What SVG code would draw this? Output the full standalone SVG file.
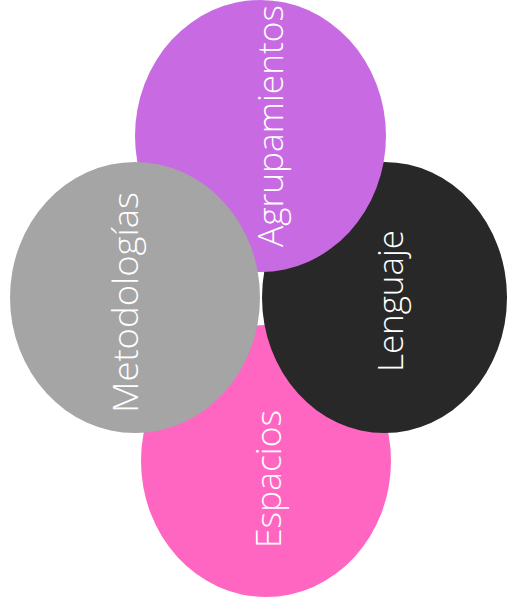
<svg xmlns="http://www.w3.org/2000/svg" width="507" height="606" viewBox="0 0 507 606">
<style>
.lbl{font-family:"Open Sans","Liberation Sans",sans-serif;font-weight:300;font-size:34px;fill:#ffffff;text-anchor:middle}
</style>
<rect width="507" height="606" fill="#ffffff"/>
<g id="espacios">
<ellipse cx="266" cy="461" rx="125" ry="136" fill="#FF66C2"/>
<text class="lbl" transform="translate(281,479) rotate(-90)" textLength="138" lengthAdjust="spacingAndGlyphs">Espacios</text>
</g>
<g id="lenguaje">
<ellipse cx="384.5" cy="297.5" rx="122.5" ry="135.5" fill="#282828"/>
<text class="lbl" transform="translate(403,301) rotate(-90)" textLength="142" lengthAdjust="spacingAndGlyphs">Lenguaje</text>
</g>
<g id="agrupamientos">
<ellipse cx="260.5" cy="136" rx="125.5" ry="136" fill="#C86BE3"/>
<text class="lbl" transform="translate(283,126) rotate(-90)" textLength="242" lengthAdjust="spacingAndGlyphs">Agrupamientos</text>
</g>
<g id="metodologias">
<ellipse cx="135" cy="297.5" rx="125" ry="135.5" fill="#A5A5A5"/>
<text class="lbl" transform="translate(138,302.5) rotate(-90)" textLength="221" lengthAdjust="spacingAndGlyphs">Metodologías</text>
</g>
<g id="connectors"/>
</svg>
